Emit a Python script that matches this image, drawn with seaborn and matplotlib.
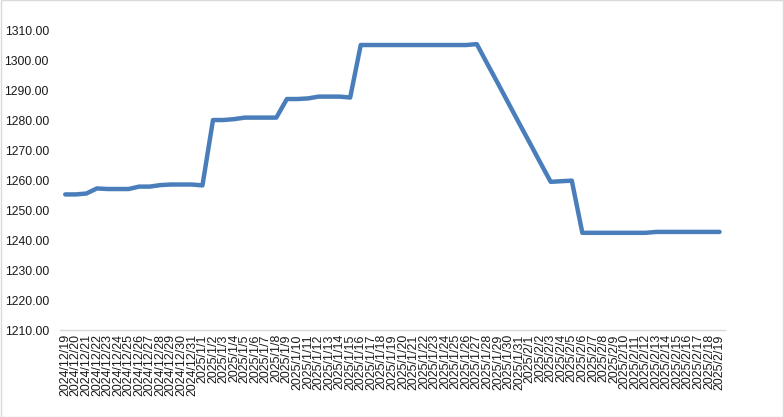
import numpy as np
import pandas as pd
import matplotlib
matplotlib.use('Agg')
import matplotlib.pyplot as plt
import seaborn as sns

# Daily dates shown on the category axis
dates = pd.date_range('2024-12-19', '2025-02-19', freq='D')
date_labels = [f'{d.year}/{d.month}/{d.day}' for d in dates]

# Price values (one per day)
prices = [
    1255.2, 1255.2, 1255.5, 1257.2, 1257.0, 1257.0, 1257.0, 1257.8, 1257.8, 1258.3,
    1258.5, 1258.5, 1258.5, 1258.2, 1280.0, 1280.0, 1280.3, 1280.8, 1280.8, 1280.8,
    1280.8, 1287.0, 1287.0, 1287.2, 1287.8, 1287.8, 1287.8, 1287.5, 1305.0, 1305.0,
    1305.0, 1305.0, 1305.0, 1305.0, 1305.0, 1305.0, 1305.0, 1305.0, 1305.0, 1305.3,
    1298.7, 1292.2, 1285.6, 1279.0, 1272.5, 1265.9, 1259.4, 1259.6, 1259.8, 1242.4,
    1242.4, 1242.4, 1242.4, 1242.4, 1242.4, 1242.4, 1242.7, 1242.7, 1242.7, 1242.7,
    1242.7, 1242.7, 1242.7,
]

df = pd.DataFrame({'idx': np.arange(len(date_labels)), 'price': prices})

sns.set_style('white')
plt.rcParams['font.family'] = ['Liberation Sans', 'DejaVu Sans']

fig = plt.figure(figsize=(7.84, 4.17), dpi=100)
ax = fig.add_axes([0.0765, 0.2086, 0.848, 0.7194])

sns.lineplot(data=df, x='idx', y='price', ax=ax, color='#4a7ebb',
             linewidth=3.2, solid_joinstyle='round', solid_capstyle='round')

ax.set_ylim(1210, 1310)
ax.set_yticks(np.arange(1210, 1311, 10))
ax.set_yticklabels([f'{v:.2f}' for v in np.arange(1210, 1311, 10)], fontsize=8.7,
                   color='#1a1a1a')
ax.set_xlim(-0.5, len(date_labels) - 0.5)
ax.set_xticks(df['idx'])
ax.set_xticklabels(date_labels, rotation=90, fontsize=8.9, color='#1a1a1a')
ax.set_xticks(np.arange(-0.5, len(date_labels), 1), minor=True)
ax.tick_params(axis='x', which='major', length=0, pad=3)
ax.tick_params(axis='x', which='minor', length=5, color='#d9d9d9', width=1)
ax.tick_params(axis='y', length=0, pad=8)
ax.set_xlabel('')
ax.set_ylabel('')

for side in ['top', 'right', 'left']:
    ax.spines[side].set_visible(False)
ax.spines['bottom'].set_color('#d9d9d9')
ax.spines['bottom'].set_linewidth(1)

# chart border
fig.patches.append(plt.Rectangle((0.001, 0.001), 0.998, 0.998, transform=fig.transFigure,
                                 fill=False, edgecolor='#d9d9d9', linewidth=1))

fig.savefig('out.png', dpi=100)
